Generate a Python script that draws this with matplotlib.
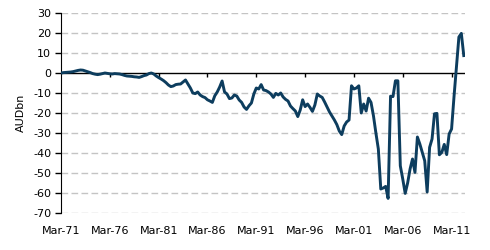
import matplotlib
matplotlib.use("Agg")
import matplotlib.pyplot as plt

plt.rcParams['axes.unicode_minus'] = False
plt.rcParams['font.family'] = ['DejaVu Sans']

# quarterly values, Mar-71 .. Jun-12 (AUD bn)
values = [
    0.0, 0.2, 0.3, 0.4, 0.5, 0.7, 1.0, 1.3, 1.5, 1.4,
    1.0, 0.6, 0.2, -0.3, -0.6, -0.8, -0.6, -0.3, 0.0, -0.2,
    -0.4, -0.5, -0.3, -0.4, -0.5, -0.8, -1.2, -1.5, -1.6, -1.7,
    -1.9, -2.0, -2.2, -1.8, -1.3, -1.0, -0.3, 0.0, -0.5, -1.5,
    -2.3, -3.0, -3.8, -4.8, -6.0, -6.8, -6.5, -5.8, -5.6, -5.5,
    -4.5, -3.5, -5.5, -7.5, -10.0, -10.3, -9.5, -11.0, -11.8, -12.3,
    -13.4, -14.0, -14.7, -11.4, -9.5, -7.0, -4.0, -9.5, -10.5, -12.8,
    -12.5, -11.0, -11.5, -13.5, -14.7, -17.0, -18.2, -16.4, -15.0, -10.5,
    -7.5, -8.0, -5.8, -8.5, -8.8, -9.5, -10.5, -12.2, -10.2, -11.0,
    -10.0, -12.0, -13.2, -14.0, -16.5, -17.8, -19.0, -21.8, -18.5, -13.4,
    -16.8, -15.5, -17.2, -19.2, -16.0, -10.5, -11.5, -12.2, -14.5, -17.0,
    -19.5, -21.5, -23.5, -25.8, -29.0, -30.8, -26.5, -24.5, -23.5, -6.4,
    -8.0, -7.5, -6.4, -20.0, -15.5, -19.0, -12.6, -14.7, -21.4, -30.0,
    -38.0, -58.0, -57.5, -56.7, -62.7, -11.6, -11.8, -3.9, -3.9, -46.4,
    -53.0, -60.2, -55.0, -48.0, -43.0, -49.7, -32.0, -35.5, -39.7, -43.9,
    -59.5, -37.2, -33.0, -20.4, -20.2, -40.9, -39.7, -35.7, -40.8, -30.5,
    -28.0, -11.8, 3.0, 18.0, 19.8, 8.7,
]
tick_labels = ['Mar-71', 'Mar-76', 'Mar-81', 'Mar-86', 'Mar-91',
               'Mar-96', 'Mar-01', 'Mar-06', 'Mar-11']
y_ticks = [30, 20, 10, 0, -10, -20, -30, -40, -50, -60, -70]

quarters = list(range(len(values)))
tick_pos = [i * 20 for i in range(len(tick_labels))]

fig = plt.figure(figsize=(4.9, 2.5), dpi=100)
ax = fig.add_axes([61 / 490, 1 - 213 / 250, (465 - 61) / 490, 200 / 250])

for y in y_ticks:
    if y != 0:
        ax.axhline(y, color='#C4C4C4', lw=1, dashes=(4.8, 2.4), zorder=1)
ax.axhline(0, color='black', lw=1, zorder=2)
ax.vlines(tick_pos[1:], -2, 0, color='black', lw=1, zorder=2)

ax.plot(quarters, values, color='#0D3D5E', lw=2.1, zorder=3,
        solid_joinstyle='round')

ax.set_xlim(0, len(values) - 0.5)
ax.set_ylim(-70, 30)
ax.set_yticks(y_ticks)
ax.set_xticks(tick_pos)
ax.set_xticklabels(tick_labels)
ax.tick_params(axis='x', length=0, labelsize=8, pad=9)
ax.tick_params(axis='y', length=4, width=1, labelsize=8, pad=3)
ax.set_ylabel('AUDbn', fontsize=8, labelpad=5)

for s in ['top', 'right', 'bottom']:
    ax.spines[s].set_visible(False)
ax.spines['left'].set_color('black')

fig.savefig('out.png', dpi=100)
